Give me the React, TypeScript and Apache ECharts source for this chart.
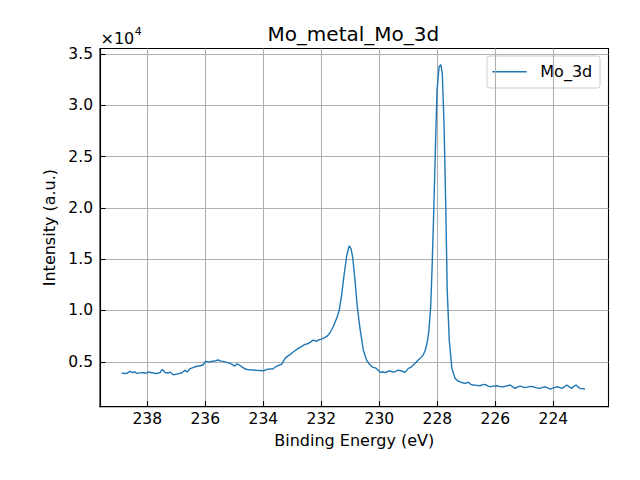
import { useEffect, useRef } from "react";
import * as echarts from "echarts";

const energy = [
  238.88, 238.79, 238.71, 238.6, 238.5, 238.42, 238.37, 238.25, 238.14, 238.05, 237.97, 237.88, 237.79,
  237.68, 237.56, 237.48, 237.39, 237.28, 237.22, 237.1, 236.99, 236.9, 236.81, 236.7, 236.62, 236.53,
  236.45, 236.36, 236.27, 236.18, 236.07, 235.99, 235.92, 235.84, 235.75, 235.67, 235.55, 235.46, 235.38,
  235.26, 235.15, 235.05, 234.98, 234.92, 234.8, 234.72, 234.63, 234.55, 234.46, 234.35, 234.23, 234.12,
  234.0, 233.88, 233.77, 233.66, 233.54, 233.45, 233.37, 233.25, 233.16, 233.08, 232.99, 232.91, 232.82,
  232.73, 232.65, 232.56, 232.47, 232.39, 232.28, 232.16, 232.08, 231.99, 231.87, 231.78, 231.7, 231.59,
  231.47, 231.38, 231.3, 231.21, 231.12, 231.04, 230.98, 230.92, 230.84, 230.76, 230.67, 230.55, 230.43,
  230.32, 230.22, 230.13, 230.05, 229.97, 229.88, 229.8, 229.71, 229.63, 229.55, 229.46, 229.35, 229.23,
  229.11, 229.0, 228.92, 228.83, 228.75, 228.66, 228.57, 228.49, 228.42, 228.37, 228.33, 228.29, 228.23,
  228.18, 228.12, 228.06, 228.01, 227.94, 227.88, 227.83, 227.77, 227.71, 227.66, 227.59, 227.5, 227.39,
  227.3, 227.22, 227.13, 227.05, 226.93, 226.85, 226.76, 226.65, 226.53, 226.45, 226.36, 226.27, 226.18,
  226.07, 225.95, 225.84, 225.72, 225.6, 225.49, 225.4, 225.32, 225.23, 225.15, 225.03, 224.92, 224.8,
  224.69, 224.57, 224.46, 224.37, 224.29, 224.2, 224.11, 224.0, 223.88, 223.8, 223.71, 223.62, 223.54,
  223.45, 223.37, 223.3, 223.22, 223.15, 223.08, 223.0, 222.91,
];

const intensity = [
  3900, 3850, 3870, 4060, 3950, 4000, 3870, 3920, 3930, 3880, 4000, 3950, 3900,
  3850, 3950, 4260, 3950, 3900, 4000, 3730, 3800, 3850, 3930, 4160, 4000, 4320,
  4400, 4510, 4560, 4610, 4710, 5070, 4980, 5000, 5050, 5070, 5170, 5060, 5040,
  4940, 4840, 4700, 4580, 4800, 4640, 4480, 4290, 4250, 4220, 4200, 4160, 4150,
  4120, 4260, 4300, 4320, 4580, 4680, 4750, 5330, 5550, 5700, 5900, 6070, 6250,
  6400, 6550, 6700, 6750, 6890, 7110, 7000, 7150, 7210, 7380, 7550, 7830, 8410,
  9230, 10040, 11500, 13600, 15400, 16280, 16050, 15230, 12960, 10360, 8300, 6100, 5100,
  4700, 4450, 4400, 4200, 3980, 4000, 3950, 4050, 4120, 4000, 4030, 4190, 4100,
  3970, 4360, 4450, 4680, 4900, 5170, 5400, 5650, 6100, 6630, 7200, 8090, 10360,
  14260, 20100, 26600, 31480, 33750, 33950, 33100, 28200, 20100, 11990, 7110, 4360, 3380,
  3150, 3050, 2950, 2890, 3000, 2800, 2730, 2700, 2660, 2750, 2800, 2650, 2560,
  2620, 2660, 2580, 2560, 2650, 2730, 2550, 2400, 2550, 2630, 2520, 2500, 2600,
  2560, 2450, 2400, 2500, 2560, 2450, 2340, 2450, 2560, 2500, 2400, 2550, 2730,
  2550, 2400, 2600, 2730, 2550, 2400, 2380, 2340,
];

const FONT = "DejaVu Sans";

export default function App() {
  const ref = useRef<HTMLDivElement>(null);

  useEffect(() => {
    const chart = echarts.init(ref.current!, null, { renderer: "svg", width: 640, height: 480 });
    const data = energy.map((e, i) => [e, intensity[i]]);
    chart.setOption({
      animation: false,
      backgroundColor: "#ffffff",
      grid: {
        left: 100,
        top: 48.5,
        right: 31.5,
        bottom: 73.3,
        show: true,
        borderColor: "#000000",
        borderWidth: 1.1,
        backgroundColor: "transparent",
        containLabel: false,
        outerBoundsMode: "none",
      },
      xAxis: {
        type: "value",
        inverse: true,
        min: 222.1,
        max: 239.63,
        minInterval: 2,
        maxInterval: 2,
        name: "Binding Energy (eV)",
        nameLocation: "middle",
        nameGap: 26,
        nameTextStyle: { fontFamily: FONT, fontSize: 16, color: "#000" },
        axisLine: { show: true, onZero: false, lineStyle: { color: "#000", width: 1.1 } },
        axisTick: { show: true, inside: true, length: 5.5, lineStyle: { color: "#000", width: 1.1 } },
        axisLabel: {
          show: true,
          margin: 4,
          fontFamily: FONT,
          fontSize: 15.5,
          color: "#000",
          showMinLabel: false,
          showMaxLabel: false,
          formatter: (v: number) => String(Math.round(v)),
        },
        splitLine: {
          show: true,
          showMinLine: false,
          showMaxLine: false,
          lineStyle: { color: "#b0b0b0", width: 1.1 },
        },
      },
      yAxis: {
        type: "value",
        min: 620,
        max: 35530,
        minInterval: 5000,
        maxInterval: 5000,
        name: "Intensity (a.u.)",
        nameLocation: "middle",
        nameGap: 41,
        nameRotate: 90,
        nameTextStyle: { fontFamily: FONT, fontSize: 16, color: "#000" },
        axisLine: { show: true, onZero: false, lineStyle: { color: "#000", width: 1.1 } },
        axisTick: { show: true, inside: true, length: 5.5, lineStyle: { color: "#000", width: 1.1 } },
        axisLabel: {
          show: true,
          margin: 7,
          fontFamily: FONT,
          fontSize: 15.5,
          color: "#000",
          showMinLabel: false,
          showMaxLabel: false,
          formatter: (v: number) => (v / 10000).toFixed(1),
        },
        splitLine: {
          show: true,
          showMinLine: false,
          showMaxLine: false,
          lineStyle: { color: "#b0b0b0", width: 1.1 },
        },
      },
      series: [
        {
          name: "Mo_3d",
          type: "line",
          data,
          symbol: "none",
          showSymbol: false,
          lineStyle: { color: "#1f77b4", width: 1.4 },
          itemStyle: { color: "#1f77b4" },
          z: 5,
        },
      ],
      graphic: [
        {
          type: "text",
          x: 353.3,
          y: 33.7,
          style: {
            text: "Mo_metal_Mo_3d",
            fontFamily: FONT,
            fontSize: 20,
            fill: "#000",
            align: "center",
            verticalAlign: "middle",
          },
        },
        {
          type: "text",
          x: 100.5,
          y: 36,
          style: {
            text: "{a|×10}{b|4}",
            fontFamily: FONT,
            fill: "#000",
            align: "left",
            verticalAlign: "middle",
            rich: {
              a: { fontFamily: FONT, fontSize: 16, fill: "#000", verticalAlign: "bottom", lineHeight: 20 },
              b: { fontFamily: FONT, fontSize: 11, fill: "#000", verticalAlign: "top", lineHeight: 12, padding: [0, 0, 0, 0.5] },
            },
          },
        },
        {
          type: "group",
          z: 100,
          children: [
            {
              type: "rect",
              shape: { x: 487, y: 56, width: 113, height: 32, r: 3 },
              style: { fill: "rgba(255,255,255,0.8)", stroke: "#cccccc", lineWidth: 1 },
            },
            {
              type: "line",
              shape: { x1: 492.3, y1: 71.7, x2: 526.7, y2: 71.7 },
              style: { stroke: "#1f77b4", lineWidth: 1.4 },
            },
            {
              type: "text",
              x: 540.3,
              y: 71.7,
              style: {
                text: "Mo_3d",
                fontFamily: FONT,
                fontSize: 16,
                fill: "#000",
                align: "left",
                verticalAlign: "middle",
              },
            },
          ],
        },
      ],
    });
    return () => chart.dispose();
  }, []);

  return (
    <div
      ref={ref}
      style={{ position: "fixed", left: 0, top: 0, width: 640, height: 480, background: "#fff" }}
    />
  );
}
